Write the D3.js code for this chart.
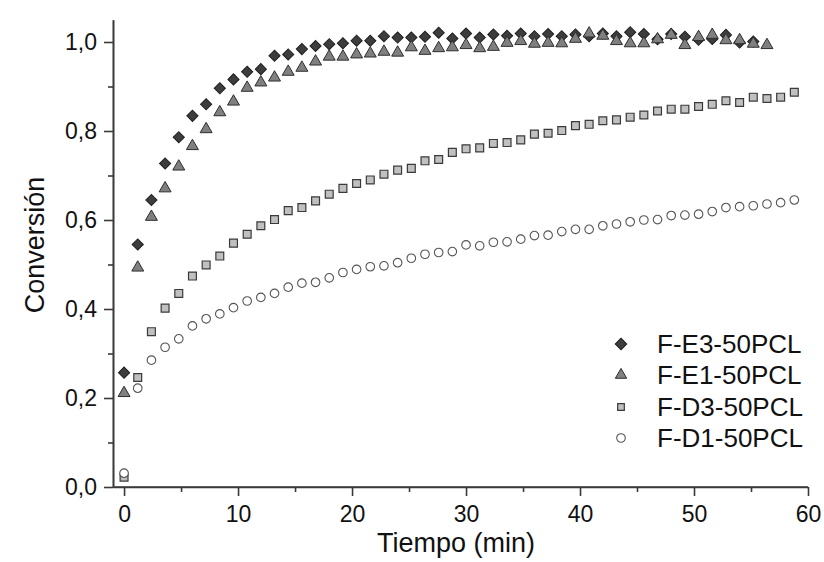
<!DOCTYPE html>
<html><head><meta charset="utf-8">
<script src="https://cdn.jsdelivr.net/npm/d3@7"></script>
<style>body{margin:0;background:#fff;} svg{display:block;}</style>
</head><body><svg id="chart" width="824" height="562"></svg>
<script>
const times = [0,1.2,2.4,3.6,4.8,6,7.2,8.4,9.6,10.8,12,13.2,14.4,15.6,16.8,18,19.2,20.4,21.6,22.8,24,25.2,26.4,27.6,28.8,30,31.2,32.4,33.6,34.8,36,37.2,38.4,39.6,40.8,42,43.2,44.4,45.6,46.8,48,49.2,50.4,51.6,52.8,54,55.2,56.4,57.6,58.8];
const seriesNames = ["F-E3-50PCL","F-E1-50PCL","F-D3-50PCL","F-D1-50PCL"];
const valsE3 = [0.257,0.545,0.645,0.727,0.786,0.834,0.860,0.896,0.916,0.933,0.939,0.969,0.972,0.984,0.991,0.995,0.997,1.003,1.003,1.013,1.010,1.010,1.012,1.021,1.008,1.019,1.010,1.017,1.014,1.019,1.013,1.018,1.013,1.017,1.013,1.019,1.013,1.022,1.018,1.006,1.018,1.012,1.005,1.007,1.016,0.999,1.001];
const valsE1 = [0.211,0.493,0.607,0.671,0.720,0.766,0.804,0.842,0.866,0.897,0.909,0.920,0.933,0.942,0.956,0.967,0.967,0.972,0.974,0.978,0.976,0.988,0.980,0.986,0.988,0.993,0.986,0.989,0.998,1.002,0.996,0.998,0.997,1.007,1.019,1.014,1.002,0.997,0.997,1.006,1.016,0.993,1.011,1.016,1.004,1.004,0.996,0.993];
const valsD3 = [0.022,0.246,0.349,0.402,0.435,0.474,0.499,0.519,0.548,0.568,0.587,0.601,0.621,0.628,0.643,0.658,0.671,0.682,0.690,0.703,0.712,0.716,0.733,0.736,0.752,0.760,0.762,0.772,0.774,0.780,0.793,0.795,0.801,0.812,0.815,0.823,0.825,0.831,0.836,0.845,0.849,0.849,0.855,0.860,0.868,0.864,0.876,0.873,0.876,0.887];
const valsD1 = [0.031,0.222,0.285,0.314,0.333,0.362,0.378,0.389,0.403,0.418,0.426,0.435,0.449,0.458,0.460,0.470,0.482,0.489,0.495,0.497,0.504,0.514,0.523,0.527,0.529,0.544,0.542,0.550,0.551,0.557,0.565,0.566,0.574,0.579,0.579,0.587,0.591,0.596,0.600,0.601,0.610,0.611,0.613,0.619,0.628,0.630,0.632,0.636,0.639,0.645];
const xTicks = [0,10,20,30,40,50,60];
const xMinorTicks = [5,15,25,35,45,55];
const yTicks = [0,0.2,0.4,0.6,0.8,1.0];
const yMinorTicks = [0.1,0.3,0.5,0.7,0.9];
const xTitle = "Tiempo (min)";
const yTitle = "Conversión";

const FONT = "'Liberation Sans', Arial, Helvetica, sans-serif";
const svg = d3.select("#chart");
const x = d3.scaleLinear().domain([-0.97, 60]).range([113, 808]);
const y = d3.scaleLinear().domain([0, 1.05]).range([487, 19.75]);
const axisColor = "#3a3a3a";

// axes
const xAxis = svg.append("g").attr("transform", "translate(0,487)")
  .call(d3.axisBottom(x).tickValues(xTicks).tickSize(9).tickPadding(10).tickSizeOuter(0).tickFormat(d3.format("d")));
const xMinor = svg.append("g").attr("transform", "translate(0,487)")
  .call(d3.axisBottom(x).tickValues(xMinorTicks).tickSize(5).tickSizeOuter(0).tickFormat(""));
const yAxis = svg.append("g").attr("transform", "translate(113,0)")
  .call(d3.axisLeft(y).tickValues(yTicks).tickSize(9).tickPadding(7).tickSizeOuter(0).tickFormat(d => d3.format(".1f")(d).replace(".", ",")));
const yMinor = svg.append("g").attr("transform", "translate(113,0)")
  .call(d3.axisLeft(y).tickValues(yMinorTicks).tickSize(5).tickSizeOuter(0).tickFormat(""));
[xAxis, xMinor, yAxis, yMinor].forEach(g => {
  g.selectAll("path.domain").attr("stroke", axisColor).attr("stroke-width", 1.6);
  g.selectAll(".tick line").attr("stroke", axisColor).attr("stroke-width", 1.6);
  g.selectAll(".tick text").attr("fill", "#111").style("font-family", FONT).style("font-size", "23px");
});
xAxis.select("path.domain").attr("d", `M${x(-0.97)},0H${x(60)}`);

// titles
svg.append("text").attr("x", 456).attr("y", 552).attr("text-anchor", "middle")
  .style("font-family", FONT).style("font-size", "27px").attr("fill", "#111").text(xTitle);
svg.append("text").attr("transform", "translate(44,245) rotate(-90)").attr("text-anchor", "middle")
  .style("font-family", FONT).style("font-size", "27px").attr("fill", "#111").text(yTitle);

// series
const styles = [
  {vals: valsE3, type: d3.symbolSquare, size: 62, lsize: 66, rot: 45, fill: "#3d3d3d", stroke: "#1e1e1e", sw: 1},
  {vals: valsE1, type: d3.symbolTriangle, size: 62, lsize: 56, rot: 0, fill: "#808080", stroke: "#2e2e2e", sw: 1},
  {vals: valsD3, type: d3.symbolSquare, size: 62, lsize: 44, rot: 0, fill: "#c0c0c0", stroke: "#3a3a3a", sw: 1.2},
  {vals: valsD1, type: d3.symbolCircle, size: 58, lsize: 58, rot: 0, fill: "#ffffff", stroke: "#555555", sw: 1.1}
];
styles.forEach((s, k) => {
  const pts = s.vals.map((v, i) => ({t: times[i], v}));
  svg.append("g").selectAll("path").data(pts).join("path")
    .attr("d", d3.symbol().type(s.type).size(s.size))
    .attr("transform", d => `translate(${x(d.t)},${y(d.v)}) rotate(${s.rot})`)
    .attr("fill", s.fill).attr("stroke", s.stroke).attr("stroke-width", s.sw);
});

// legend
const legendY = [344, 375, 407, 438];
const legend = svg.append("g");
styles.forEach((s, k) => {
  legend.append("path")
    .attr("d", d3.symbol().type(s.type).size(s.lsize))
    .attr("transform", `translate(621,${legendY[k]}) rotate(${s.rot})`)
    .attr("fill", s.fill).attr("stroke", s.stroke).attr("stroke-width", s.sw);
  legend.append("text").attr("x", 657).attr("y", legendY[k] + 8.5)
    .style("font-family", FONT).style("font-size", "26px").attr("fill", "#111")
    .text(seriesNames[k]);
});
</script></body></html>
